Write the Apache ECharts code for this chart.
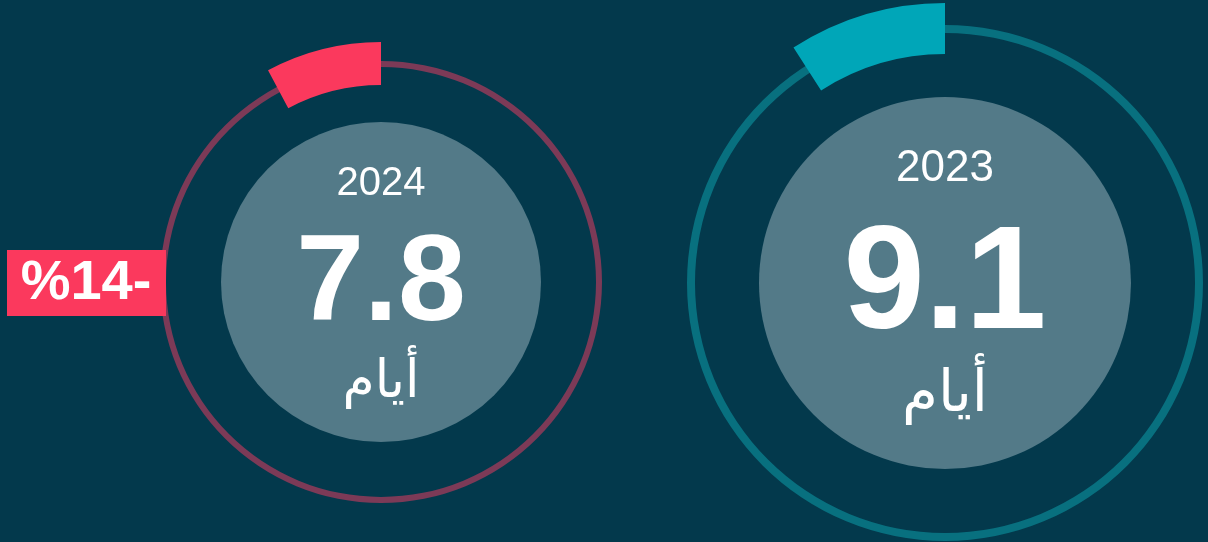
<!DOCTYPE html>
<html>
	<head>
		<meta charset="UTF-8">
		<title></title>
		<script type="text/javascript" src="https://cdn.jsdelivr.net/npm/echarts@6/dist/echarts.min.js"></script>
		<style>
			html, body { margin: 0; padding: 0; background: #03394c; }
		</style>
	</head>
	<body>
		<div id="main" style="width: 1208px;height: 542px;"></div>
		<script type="text/javascript">
			// data
			var years = ['2024', '2023'];
			var values = [7.8, 9.1];
			var unitText = 'أيام';
			var maxValue = 100;
			var changeText = '%14-';

			// layout / look of each dial
			var dials = [
				{ cx: 381, cy: 282, ring: [215, 221], arc: [197, 240], disc: 160,
				  ringColor: '#7c3a57', arcColor: '#fb395d',
				  yearSize: 40, yearY: 184, valueSize: 122, valueY: 286, unitSize: 52, unitY: 383 },
				{ cx: 945, cy: 283, ring: [250, 258], arc: [229, 280], disc: 186,
				  ringColor: '#08707f', arcColor: '#00a6b8',
				  yearSize: 44, yearY: 169, valueSize: 146, valueY: 288, unitSize: 58, unitY: 396 }
			];

			var myChart = echarts.init(document.getElementById("main"));

			var series = [];
			var graphics = [];
			dials.forEach(function (d, i) {
				series.push({
					type: 'pie', silent: true, animation: false,
					center: [d.cx, d.cy], radius: [0, d.disc],
					label: { show: false }, labelLine: { show: false },
					data: [{ value: 1, itemStyle: { color: '#537a88' } }]
				});
				series.push({
					type: 'pie', silent: true, animation: false,
					center: [d.cx, d.cy], radius: d.ring,
					label: { show: false }, labelLine: { show: false },
					data: [{ value: 1, itemStyle: { color: d.ringColor } }]
				});
				series.push({
					type: 'pie', silent: true, animation: false,
					center: [d.cx, d.cy], radius: d.arc,
					startAngle: 90, clockwise: false,
					label: { show: false }, labelLine: { show: false },
					data: [
						{ value: values[i], itemStyle: { color: d.arcColor } },
						{ value: maxValue - values[i], itemStyle: { color: 'rgba(0,0,0,0)' } }
					]
				});
				graphics.push({
					type: 'text', x: d.cx, y: d.yearY, z: 10,
					style: { text: years[i], fill: '#fff', font: d.yearSize + 'px "Liberation Sans", Arial, sans-serif',
						textAlign: 'center', textVerticalAlign: 'middle' }
				});
				graphics.push({
					type: 'text', x: d.cx, y: d.valueY, z: 10,
					style: { text: values[i].toFixed(1), fill: '#fff', font: 'bold ' + d.valueSize + 'px "Liberation Sans", Arial, sans-serif',
						textAlign: 'center', textVerticalAlign: 'middle' }
				});
				graphics.push({
					type: 'text', x: d.cx, y: d.unitY, z: 10,
					style: { text: unitText, fill: '#fff', font: d.unitSize + 'px "DejaVu Sans", sans-serif',
						textAlign: 'center', textVerticalAlign: 'middle' }
				});
			});

			// change badge
			graphics.push({
				type: 'rect', z: 10,
				shape: { x: 7, y: 250, width: 159, height: 66 },
				style: { fill: '#fb395d' }
			});
			graphics.push({
				type: 'text', x: 86, y: 284, z: 11,
				style: { text: changeText, fill: '#fff', font: 'bold 56px "Liberation Sans", Arial, sans-serif',
					textAlign: 'center', textVerticalAlign: 'middle' }
			});

			myChart.setOption({
				backgroundColor: '#03394c',
				animation: false,
				series: series,
				graphic: graphics
			});
		</script>
	</body>
</html>
